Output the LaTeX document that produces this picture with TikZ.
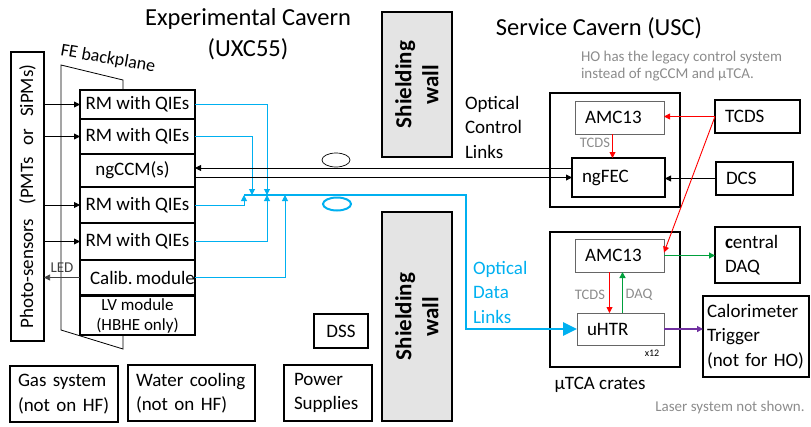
\documentclass[tikz,border=0pt]{standalone}
\usepackage{fontspec}
\setmainfont{Carlito}
\usepackage{tikz}
\usetikzlibrary{positioning, shapes.geometric, arrows.meta}
\definecolor{fibreblue}{RGB}{0,176,240}
\definecolor{trigpurple}{RGB}{112,48,160}
\definecolor{daqgreen}{RGB}{0,160,60}
\definecolor{notegray}{RGB}{140,140,140}
\definecolor{marble}{RGB}{228,228,228}
\tikzset{
	node distance=0pt,
	every node/.style={font=\fontsize{19}{24.5}\selectfont, inner sep=0, outer sep=0, align=center},
	module/.style= {
		rectangle,
		draw,
		line width=1.6pt,
		fill=white,
		minimum width=115
	},
	crate/.style={rectangle, draw, line width=2.4pt},
	card/.style={rectangle, draw=black!60, line width=0.8pt, fill=white, align=left, inner xsep=10},
	ext/.style={rectangle, draw, line width=1.3pt, align=left, inner xsep=8},
	wall/.style={rectangle, draw, line width=2pt, fill=marble, rotate=90,
		font=\fontsize{23}{27}\selectfont\bfseries},
	note/.style={text=notegray, font=\fontsize{15}{17}\selectfont},
	tag/.style={text=notegray, font=\fontsize{14.5}{17}\selectfont},
	sig/.style={-{Triangle[length=6pt,width=6pt]}, line width=0.9pt},
	fiber/.style={fibreblue, line width=1pt, -{Triangle[length=6pt,width=6pt]}},
	trunk/.style={fibreblue, line width=2.6pt, -{Triangle[length=14pt,width=13pt]}},
	tcdsline/.style={red, line width=0.9pt, -{Triangle[length=6pt,width=6pt]}},
}

\begin{document}
\begin{tikzpicture}[x=1pt, y=-1pt]
	\useasboundingbox (0,0) rectangle (811,426);

	% titles
	\node (uxc) [font=\fontsize{24.5}{31}\selectfont] at (248,34) {Experimental Cavern\\(UXC55)};
	\node (usc) [font=\fontsize{24.5}{31}\selectfont] at (599,28) {Service Cavern (USC)};
	\node (honote) [note, align=left, anchor=west] at (581,66.5) {HO has the legacy control system\\instead of ngCCM and µTCA.};

	% front end
	\draw[line width=0.8pt] (61,65) -- (123,80) -- (123,349) -- (61,330) -- cycle;
	\node (felabel) [rotate=-10, font=\fontsize{18}{20}\selectfont] at (108,59) {FE backplane};

	\node (phot) [module, rotate=90, minimum width=289, minimum height=33] at (27.5,196.5)
		{Photo-sensors\hspace{14pt}(PMTs\hspace{12pt}or\hspace{12pt}SiPMs)};

	\node (rm1) [module, minimum height=29] at (137.5,104.5) {RM with QIEs};
	\node (rm2) [module, minimum height=35, below=of rm1] {RM with QIEs};
	\node (ngccm) [module, minimum height=33, below=of rm2] {ngCCM(s)\hspace{10pt}};
	\node (rm3) [module, minimum height=36, below=of ngccm] {RM with QIEs};
	\node (rm4) [module, minimum height=37, below=of rm3] {RM with QIEs};
	\node (calib) [module, minimum height=35, below=of rm4] {\hspace{10pt}Calib.\,module};
	\node (lv) [module, minimum height=39, below=1pt of calib, font=\fontsize{17}{20}\selectfont] {LV module\\(HBHE only)};

	\foreach \rm in {rm1,rm2,rm3,rm4}
		\draw[sig] (phot.south |- \rm.west) -- (\rm.west);
	\draw[sig, black!75, line width=0.7pt] (calib.west) -- (calib.west -| phot.south);
	\node (ledlabel) [font=\fontsize{15}{18}\selectfont, text=black!75] at (62,268) {LED};

	% shielding walls
	\node (walltop) [wall, minimum width=145, minimum height=70] at (417,84.5) {Shielding\\wall};
	\node (wallbot) [wall, minimum width=209, minimum height=70] at (417,316.5) {Shielding\\wall};

	% optical data links
	\coordinate (j1) at (244,195);
	\coordinate (j2) at (252,195);
	\coordinate (j3) at (267,195);
	\coordinate (j4) at (285,195);
	\coordinate (bend) at (466,195);
	\draw[fiber] (rm1.east) -| (j3);
	\draw[fiber] (rm2.east) -| (j2);
	\draw[fiber] (rm3.east) -| (j1);
	\draw[fiber] (rm4.east) -| (j3);
	\draw[fiber] (calib.east) -| (j4);
	\node (dataloop) [ellipse, draw=fibreblue, line width=2pt, minimum width=28, minimum height=13] at (337,204) {};
	\node (datalinks) [anchor=west, align=left, text=fibreblue] at (473,292) {Optical\\Data\\Links};

	% service cavern
	\node (feccrate) [crate, minimum width=130, minimum height=114] at (615,150) {};
	\node (amctop) [card, text width=69, minimum height=33] at (619.5,117.5) {AMC13};
	\node (ngfec) [card, draw=black, line width=2pt, text width=73, minimum height=39] at (618.5,177.5) {ngFEC};
	\node (tcds) [ext, inner xsep=10, text width=65, minimum height=33] at (757.5,116.5) {TCDS};
	\node (dcs) [ext, inner xsep=10, text width=57, minimum height=33] at (754.5,178.5) {DCS};
	\node (ctrllinks) [anchor=west, align=left] at (465,127) {Optical\\Control\\Links};

	\node (utcacrate) [crate, minimum width=130, minimum height=135] at (615,299.5) {};
	\node (amcbot) [card, text width=69, minimum height=33] at (619.5,255.5) {AMC13};
	\node (uhtr) [card, text width=67, minimum height=32] at (620.5,329) {uHTR};
	\node (x12) [font=\fontsize{10}{12}\selectfont] at (652,353) {x12};
	\node (cdaq) [ext, inner xsep=10, text width=65, minimum height=56] at (757.5,255) {\textbf{c}entral\\DAQ};
	\node (calo) [ext, inner xsep=4, text width=98, minimum height=81] at (756,336.5) {Calorimeter\\Trigger\\(not for HO)};
	\node (crateslabel) at (600,385) {µTCA crates};
	\node (lasernote) [note] at (730,407) {Laser system not shown.};

	% control links
	\coordinate (ccmin) at ([yshift=2.5pt]ngccm.east);
	\draw[sig] (ccmin -| ngfec.west) -- (ccmin);
	\draw[sig] (ngccm.east |- ngfec.west) -- (ngfec.west);
	\node (ctrlloop) [ellipse, draw, line width=0.7pt, minimum width=28, minimum height=14] at (336,160) {};
	\draw[sig] (dcs.west) -- (dcs.west -| ngfec.east);

	% timing, daq and trigger
	\coordinate (tcdsdrop) at ([xshift=-7pt]amctop.south);
	\coordinate (tcdsdown) at ([xshift=-10pt]amcbot.south);
	\coordinate (daqup) at ([xshift=2pt]uhtr.north);
	\draw[tcdsline] (tcds.west) -- (tcds.west -| amctop.east);
	\draw[tcdsline] (tcds.west) -- ([yshift=3pt]amcbot.east);
	\draw[tcdsline] (tcdsdrop) -- (tcdsdrop |- ngfec.north);
	\draw[tcdsline] (tcdsdown) -- (tcdsdown |- uhtr.north);
	\draw[daqgreen, line width=1.3pt, -{Triangle[length=6pt,width=6pt]}] (daqup) -- (daqup |- amcbot.south);
	\draw[daqgreen, line width=1.3pt, -{Triangle[length=6pt,width=6pt]}] (amcbot.east) -- (amcbot.east -| cdaq.west);
	\draw[trigpurple, line width=1.3pt, -{Triangle[length=6pt,width=6pt]}] (uhtr.east) -- (uhtr.east -| calo.west);
	\node (tcdstag) [tag] at (595,143) {TCDS};
	\node (tcdstagb) [tag] at (590,295) {TCDS};
	\node (daqtag) [tag] at (639,295) {DAQ};

	\draw[trunk] (j1) -- (bend) |- (uhtr.west);

	% infrastructure
	\node (dss) [ext, inner xsep=0, minimum width=54, minimum height=34, align=center] at (341,331) {DSS};
	\node (gas) [ext, text width=92, minimum height=56] at (64,394) {Gas system\\(not on HF)};
	\node (water) [ext, text width=111, minimum height=56] at (191.5,393) {Water cooling\\(not on HF)};
	\node (power) [ext, inner xsep=10, text width=68, minimum height=56] at (328,393) {Power\\Supplies};
\end{tikzpicture}
\end{document}
